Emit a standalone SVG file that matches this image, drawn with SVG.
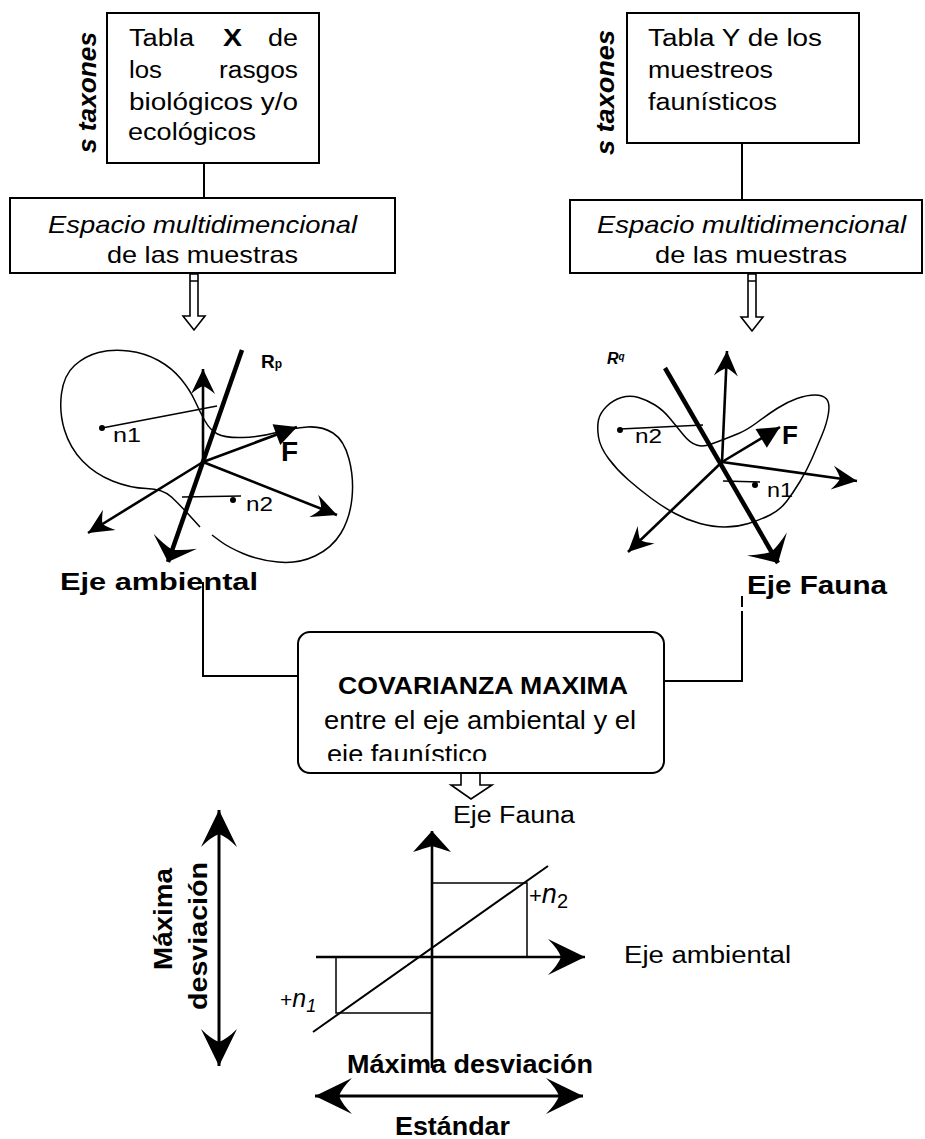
<svg xmlns="http://www.w3.org/2000/svg" width="925" height="1139" viewBox="0 0 925 1139">
<defs>
<style>
.t{font-family:"Liberation Sans",Arial,sans-serif;fill:#000}
.b{font-weight:bold}
.i{font-style:italic}
.box{fill:#fff;stroke:#000;stroke-width:2}
.ln{fill:none;stroke:#000}
.thin{stroke-width:1.5}
.ax{stroke-width:2.6}
.thick{stroke-width:4.5}
.hollow{fill:#fff;stroke:#000;stroke-width:1.6}
</style>
<!-- barbed arrowheads, all drawn pointing along +x with the tip at the origin -->
<marker id="barb" viewBox="-30 -16 32 32" markerWidth="32" markerHeight="32" refX="0" refY="0" orient="auto" markerUnits="userSpaceOnUse">
<path d="M0,0 L-25,-12 Q-19,-5 -17,0 Q-19,5 -25,12 Z"/>
</marker>
<marker id="barb-thick" viewBox="-28 -26 30 52" markerWidth="30" markerHeight="52" refX="0" refY="0" orient="auto" markerUnits="userSpaceOnUse">
<path d="M0,0 L-22,-23 Q-15,-9 -13,0 Q-15,9 -22,23 Z"/>
</marker>
<marker id="tri" viewBox="-26 -14 28 28" markerWidth="28" markerHeight="28" refX="0" refY="0" orient="auto" markerUnits="userSpaceOnUse">
<path d="M0,0 L-22,-11 L-22,11 Z"/>
</marker>
<marker id="barb-big" viewBox="-42 -22 44 44" markerWidth="44" markerHeight="44" refX="0" refY="0" orient="auto-start-reverse" markerUnits="userSpaceOnUse">
<path d="M0,0 L-37,-18 Q-27,-8 -24,0 Q-27,8 -37,18 Z"/>
</marker>
<marker id="barb-wide" viewBox="-26 -22 28 44" markerWidth="28" markerHeight="44" refX="0" refY="0" orient="auto" markerUnits="userSpaceOnUse">
<path d="M0,0 L-21,-19 Q-17,-7 -15,0 Q-17,7 -21,19 Z"/>
</marker>
<clipPath id="clip-ex"><rect x="10" y="198" width="385" height="65"/></clipPath>
<clipPath id="clip-ey"><rect x="570" y="200" width="352" height="63"/></clipPath>
<clipPath id="clip-cov"><rect x="298" y="632" width="366" height="129"/></clipPath>
</defs>

<rect width="925" height="1139" fill="#fff"/>

<!-- connectors -->
<g id="connectors">
  <line class="ln" stroke-width="2" x1="204" y1="163" x2="204" y2="198"/>
  <line class="ln" stroke-width="2" x1="742" y1="143" x2="742" y2="200"/>
  <polygon class="hollow" points="190,274 198,274 198,316 205,316 194,330 183,316 190,316"/>
  <line class="ln thin" x1="190" y1="281" x2="198" y2="281"/>
  <polygon class="hollow" points="748,274 756,274 756,317 763,317 752,331 741,317 748,317"/>
  <line class="ln thin" x1="748" y1="281" x2="756" y2="281"/>
  <polyline class="ln" stroke-width="2" points="203,582 203,676 298,676"/>
  <line class="ln" stroke-width="2" x1="742" y1="596" x2="742" y2="607"/>
  <polyline class="ln" stroke-width="2" points="742,611 742,681 664,681"/>
  <polygon class="hollow" points="461,773 480,773 480,785 492,785 471,799 451,785 461,785"/>
</g>

<!-- table X -->
<g id="tabla-x">
  <rect class="box" x="107" y="13" width="212" height="150"/>
  <text class="t" font-size="23" x="129" y="46" textLength="65" lengthAdjust="spacingAndGlyphs">Tabla</text>
  <text class="t b" font-size="23" x="223" y="46" textLength="19" lengthAdjust="spacingAndGlyphs">X</text>
  <text class="t" font-size="23" x="268" y="46" textLength="30" lengthAdjust="spacingAndGlyphs">de</text>
  <text class="t" font-size="23" x="129" y="78" textLength="33" lengthAdjust="spacingAndGlyphs">los</text>
  <text class="t" font-size="23" x="219" y="78" textLength="79" lengthAdjust="spacingAndGlyphs">rasgos</text>
  <text class="t" font-size="23" x="129" y="110" textLength="169" lengthAdjust="spacingAndGlyphs">biológicos y/o</text>
  <text class="t" font-size="23" x="128" y="140" textLength="128" lengthAdjust="spacingAndGlyphs">ecológicos</text>
  <text class="t b i" font-size="25" transform="translate(96,153) rotate(-90)" textLength="121" lengthAdjust="spacingAndGlyphs">s taxones</text>
</g>

<!-- table Y -->
<g id="tabla-y">
  <rect class="box" x="627" y="13" width="232" height="130"/>
  <text class="t" font-size="23" x="648" y="46" textLength="174" lengthAdjust="spacingAndGlyphs">Tabla Y de los</text>
  <text class="t" font-size="23" x="648" y="78" textLength="125" lengthAdjust="spacingAndGlyphs">muestreos</text>
  <text class="t" font-size="23" x="648" y="110" textLength="129" lengthAdjust="spacingAndGlyphs">faunísticos</text>
  <text class="t b i" font-size="25" transform="translate(614,155) rotate(-90)" textLength="125" lengthAdjust="spacingAndGlyphs">s taxones</text>
</g>

<!-- sample spaces -->
<g id="espacio-x">
  <rect class="box" x="10" y="198" width="385" height="75"/>
  <g clip-path="url(#clip-ex)">
    <text class="t i" font-size="24" x="48" y="233" textLength="309" lengthAdjust="spacingAndGlyphs">Espacio multidimencional</text>
    <text class="t" font-size="24" x="107" y="263" textLength="191" lengthAdjust="spacingAndGlyphs">de las muestras</text>
  </g>
</g>
<g id="espacio-y">
  <rect class="box" x="570" y="200" width="352" height="73"/>
  <g clip-path="url(#clip-ey)">
    <text class="t i" font-size="24" x="597" y="233" textLength="309" lengthAdjust="spacingAndGlyphs">Espacio multidimencional</text>
    <text class="t" font-size="24" x="655" y="263" textLength="192" lengthAdjust="spacingAndGlyphs">de las muestras</text>
  </g>
</g>

<!-- environmental ordination space -->
<g id="espacio-ambiental">
  <path class="ln thin" d="M200,527 L190,516 Q180,505 171.5,497 Q163,489 146.5,488.5 Q130,488 112.5,481 Q95,474 82.5,461 Q70,448 64.5,430 Q59,412 61.5,393.5 Q64,375 74.5,365.5 Q85,356 98.5,352.5 Q112,349 128.5,351 Q145,353 158.5,360.5 Q172,368 181,379 Q190,390 195,401 Q200,412 205,421 Q210,430 217.5,434 Q225,438 242.5,437.5 Q260,437 276.5,432.5 Q293,428 307.5,427 Q322,426 333,433 Q344,440 349,459 Q354,478 352,498 Q350,518 341,533 Q332,548 315,556 Q298,564 278,562 Q258,560 243,553.5 Q228,547 220,541 L212,535"/>
  <line class="ln thin" x1="102" y1="428" x2="217" y2="406"/>
  <circle cx="102" cy="428" r="3"/>
  <text class="t" font-size="20" x="113" y="442" textLength="28" lengthAdjust="spacingAndGlyphs">n1</text>
  <line class="ln thin" x1="182" y1="497" x2="241" y2="496"/>
  <circle cx="233" cy="500" r="3"/>
  <text class="t" font-size="20" x="246" y="511" textLength="27" lengthAdjust="spacingAndGlyphs">n2</text>
  <line class="ln ax" x1="203" y1="462" x2="203" y2="369" marker-end="url(#barb)"/>
  <line class="ln ax" x1="203" y1="462" x2="88" y2="533" marker-end="url(#barb)"/>
  <line class="ln ax" x1="203" y1="462" x2="337" y2="515" marker-end="url(#barb)"/>
  <line class="ln ax" x1="203" y1="462" x2="297" y2="427" marker-end="url(#tri)"/>
  <line class="ln thick" x1="242" y1="350" x2="168" y2="562" marker-end="url(#barb-thick)"/>
  <text class="t b" font-size="28" x="281" y="461">F</text>
  <text class="t b" font-size="19" x="261" y="368">R<tspan font-size="12">p</tspan></text>
  <text class="t b" font-size="24" x="60" y="590" textLength="198" lengthAdjust="spacingAndGlyphs">Eje ambiental</text>
</g>

<!-- faunal ordination space -->
<g id="espacio-fauna">
  <path class="ln thin" d="M598.5,420 Q600,413 606.5,406.5 Q613,400 621.5,397.5 Q630,395 638.5,397.5 Q647,400 655,405 Q663,410 670,418.5 Q677,427 683.5,435 Q690,443 696.5,445 Q703,447 710,444.5 Q717,442 723.5,439.5 Q730,437 738.5,433.5 Q747,430 757,422.5 Q767,415 777,408.5 Q787,402 797,398.5 Q807,395 815,395 Q823,395 826.5,399 Q830,403 828.5,413 Q827,423 822,435 Q817,447 812,458.5 Q807,470 800,481.5 Q793,493 786.5,501.5 Q780,510 770,515 Q760,520 748.5,523.5 Q737,527 725,527 Q713,527 700,523.5 Q687,520 675,513.5 Q663,507 651.5,498.5 Q640,490 628.5,480 Q617,470 608.5,458.5 Q600,447 598.5,437 Q597,427 598.5,420 Z"/>
  <line class="ln thin" x1="620" y1="429" x2="703" y2="425"/>
  <circle cx="620" cy="430" r="3"/>
  <text class="t" font-size="20" x="635" y="443" textLength="27" lengthAdjust="spacingAndGlyphs">n2</text>
  <line class="ln thin" x1="723" y1="481" x2="760" y2="482"/>
  <circle cx="755" cy="485" r="3"/>
  <text class="t" font-size="20" x="767" y="497" textLength="26" lengthAdjust="spacingAndGlyphs">n1</text>
  <line class="ln ax" x1="722" y1="462" x2="727" y2="351" marker-end="url(#barb)"/>
  <line class="ln ax" x1="722" y1="462" x2="857" y2="481" marker-end="url(#barb)"/>
  <line class="ln ax" x1="722" y1="462" x2="628" y2="552" marker-end="url(#barb)"/>
  <line class="ln ax" x1="722" y1="462" x2="780" y2="427" marker-end="url(#tri)"/>
  <line class="ln thick" x1="665" y1="368" x2="778" y2="563" marker-end="url(#barb-thick)"/>
  <text class="t b" font-size="26" x="782" y="444">F</text>
  <text class="t b i" font-size="16" x="607" y="364">R<tspan font-size="10" dy="-4">q</tspan></text>
  <text class="t b" font-size="25" x="747" y="594" textLength="140" lengthAdjust="spacingAndGlyphs">Eje Fauna</text>
</g>

<!-- maximum covariance -->
<g id="covarianza">
  <rect class="box" x="298" y="632" width="366" height="141" rx="12" ry="12"/>
  <text class="t b" font-size="24" x="338" y="694" textLength="290" lengthAdjust="spacingAndGlyphs">COVARIANZA MAXIMA</text>
  <text class="t" font-size="25" x="324" y="729" textLength="312" lengthAdjust="spacingAndGlyphs">entre el eje ambiental y el</text>
  <g clip-path="url(#clip-cov)">
    <text class="t" font-size="25" x="327" y="763" textLength="160" lengthAdjust="spacingAndGlyphs">eje faunístico</text>
  </g>
</g>

<!-- covariance plot -->
<g id="grafico">
  <text class="t" font-size="23" x="453" y="823" textLength="122" lengthAdjust="spacingAndGlyphs">Eje Fauna</text>
  <text class="t" font-size="23" x="624" y="963" textLength="167" lengthAdjust="spacingAndGlyphs">Eje ambiental</text>
  <polyline class="ln thin" points="432,883 527,883 527,957"/>
  <polyline class="ln thin" points="336,957 336,1013 432,1013"/>
  <line class="ln" stroke-width="2" x1="548" y1="866" x2="313" y2="1032"/>
  <line class="ln ax" x1="432" y1="1068" x2="432" y2="831" marker-end="url(#barb-wide)"/>
  <line class="ln ax" x1="316" y1="957" x2="585" y2="957" marker-end="url(#barb-big)"/>
  <text class="t" font-size="22" x="529" y="903">+<tspan class="i" font-size="27">n</tspan><tspan font-size="20" dy="5">2</tspan></text>
  <text class="t" font-size="21" x="280" y="1007">+<tspan class="i" font-size="25">n</tspan><tspan class="i" font-size="18" dy="5">1</tspan></text>
  <line class="ln" stroke-width="3" x1="219" y1="1066" x2="219" y2="810" marker-start="url(#barb-big)" marker-end="url(#barb-big)"/>
  <text class="t b" font-size="25" transform="translate(172,970) rotate(-90)" textLength="102" lengthAdjust="spacingAndGlyphs">Máxima</text>
  <text class="t b" font-size="25" transform="translate(207,1010) rotate(-90)" textLength="148" lengthAdjust="spacingAndGlyphs">desviación</text>
  <text class="t b" font-size="26" x="347" y="1073" textLength="246" lengthAdjust="spacingAndGlyphs">Máxima desviación</text>
  <line class="ln" stroke-width="3" x1="315" y1="1096" x2="583" y2="1096" marker-start="url(#barb-big)" marker-end="url(#barb-big)"/>
  <text class="t b" font-size="26" x="395" y="1135" textLength="115" lengthAdjust="spacingAndGlyphs">Estándar</text>
</g>
</svg>
